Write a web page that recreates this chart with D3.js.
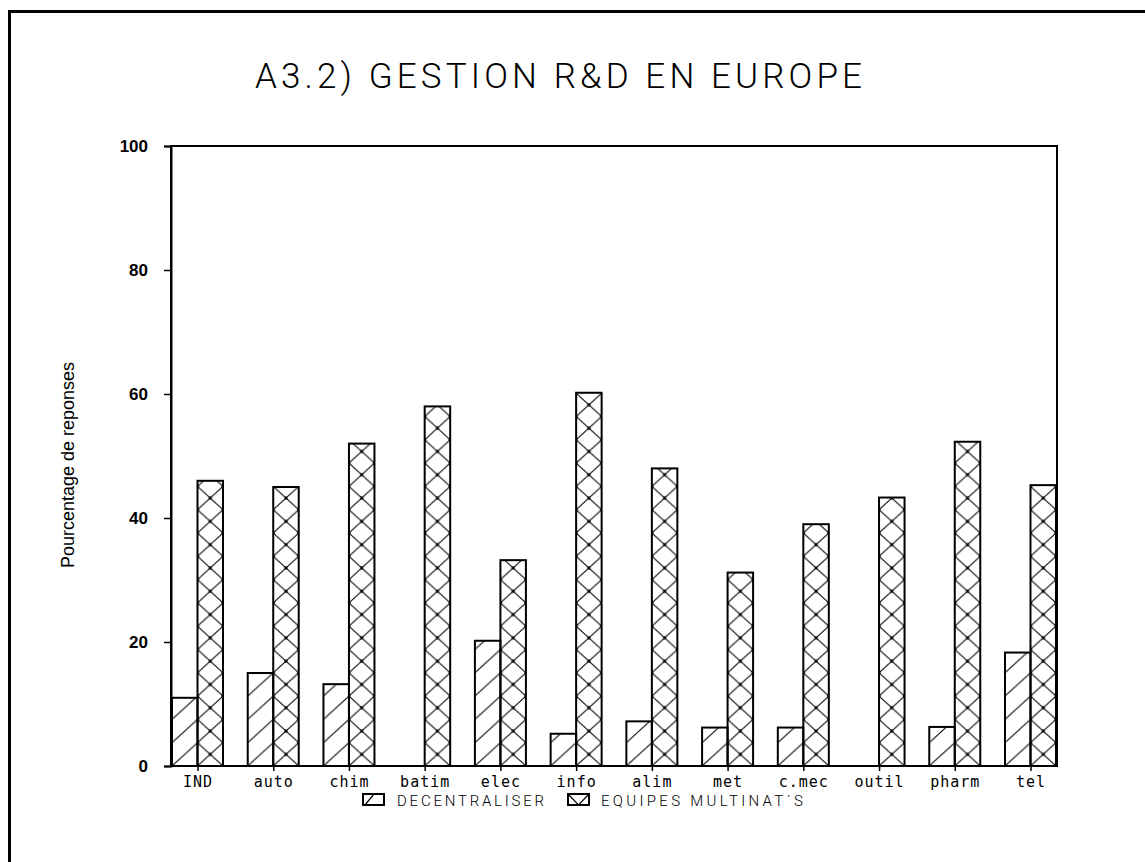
<!DOCTYPE html>
<html>
<head>
<meta charset="utf-8">
<script src="https://cdn.jsdelivr.net/npm/d3@7"></script>
<style>
  body { margin: 0; background: #fff; }
  svg { display: block; }
  .mono { font-family: "DejaVu Sans Mono", "Liberation Mono", monospace; }
  .thin { font-family: Roboto, "Open Sans", "DejaVu Sans", sans-serif; font-weight: 300; }
  .sans { font-family: "Liberation Sans", Arial, sans-serif; }
</style>
</head>
<body>
<div id="chart"></div>
<script>
// data
var categories = ["IND", "auto", "chim", "batim", "elec", "info", "alim", "met", "c.mec", "outil", "pharm", "tel"];
var decentraliser = [11, 15, 13.2, 0, 20.2, 5.2, 7.2, 6.2, 6.2, 0, 6.3, 18.3];
var equipes = [46, 45, 52, 58, 33.2, 60.2, 48, 31.2, 39, 43.3, 52.3, 45.3];
var yTicks = [0, 20, 40, 60, 80, 100];
var seriesNames = ["DECENTRALISER", "EQUIPES MULTINAT\u00B4S"];
var title = "A3.2) GESTION R&D EN EUROPE";
var yTitle = "Pourcentage de reponses";

var W = 1145, H = 862;
var plot = {left: 171, top: 146, right: 1057, bottom: 766};

var svg = d3.select("#chart").append("svg")
    .attr("width", W)
    .attr("height", H);
var defs = svg.append("defs");

// outer frame
svg.append("rect")
    .attr("x", 9.5).attr("y", 11.5)
    .attr("width", 1200).attr("height", 900)
    .attr("fill", "none").attr("stroke", "#000").attr("stroke-width", 3);

// scales
var x = d3.scalePoint()
    .domain(categories)
    .range([plot.left, plot.right])
    .padding(0.35);
var y = d3.scaleLinear()
    .domain([0, 100])
    .range([plot.bottom, plot.top]);

var bw = 25.5, tileH = 23.3;

// one pattern per bar so the hatching lines up with each bar
function hatchPattern(id, x0, y0) {
  var p = defs.append("pattern")
      .attr("id", id)
      .attr("patternUnits", "userSpaceOnUse")
      .attr("x", x0).attr("y", y0)
      .attr("width", bw).attr("height", tileH);
  p.append("line")
      .attr("x1", 0).attr("y1", tileH).attr("x2", bw).attr("y2", 0)
      .attr("stroke", "#000").attr("stroke-width", 1);
}
function crossPattern(id, x0, y0) {
  var p = defs.append("pattern")
      .attr("id", id)
      .attr("patternUnits", "userSpaceOnUse")
      .attr("x", x0).attr("y", y0)
      .attr("width", bw).attr("height", tileH);
  p.append("line")
      .attr("x1", 0).attr("y1", 0).attr("x2", bw).attr("y2", tileH)
      .attr("stroke", "#000").attr("stroke-width", 1);
  p.append("line")
      .attr("x1", bw).attr("y1", 0).attr("x2", 0).attr("y2", tileH)
      .attr("stroke", "#000").attr("stroke-width", 1);
  [[bw / 2, tileH / 2], [0, 0], [bw, 0], [0, tileH], [bw, tileH]].forEach(function(pt) {
    p.append("circle").attr("cx", pt[0]).attr("cy", pt[1]).attr("r", 1.6).attr("fill", "#000");
  });
}

categories.forEach(function(c, i) {
  hatchPattern("dec" + i, x(c) - bw, plot.bottom);
  crossPattern("eq" + i, x(c), plot.bottom);
});

// bars
var g = svg.append("g");
g.selectAll(".dec")
  .data(decentraliser)
  .enter().append("rect")
    .attr("class", "dec")
    .attr("x", function(d, i) { return x(categories[i]) - bw; })
    .attr("y", function(d) { return y(d); })
    .attr("width", bw)
    .attr("height", function(d) { return y(0) - y(d); })
    .attr("fill", function(d, i) { return "url(#dec" + i + ")"; })
    .attr("stroke", "#000").attr("stroke-width", 2);

g.selectAll(".eq")
  .data(equipes)
  .enter().append("rect")
    .attr("class", "eq")
    .attr("x", function(d, i) { return x(categories[i]); })
    .attr("y", function(d) { return y(d); })
    .attr("width", bw)
    .attr("height", function(d) { return y(0) - y(d); })
    .attr("fill", function(d, i) { return "url(#eq" + i + ")"; })
    .attr("stroke", "#000").attr("stroke-width", 2);

// plot box
svg.append("rect")
    .attr("x", plot.left).attr("y", plot.top)
    .attr("width", plot.right - plot.left).attr("height", plot.bottom - plot.top)
    .attr("fill", "none").attr("stroke", "#000").attr("stroke-width", 2);

// y axis
var yAxis = svg.append("g")
    .attr("transform", "translate(" + plot.left + ",0)")
    .call(d3.axisLeft(y).tickValues(yTicks).tickSize(7).tickPadding(16));
yAxis.select(".domain").attr("stroke-width", 2);
yAxis.selectAll(".tick line").attr("stroke-width", 1.5);
yAxis.selectAll("text")
    .attr("class", "sans")
    .style("font-size", "17px")
    .style("font-weight", "bold")
    .attr("fill", "#000");

// x axis
var xAxis = svg.append("g")
    .attr("transform", "translate(0," + plot.bottom + ")")
    .call(d3.axisBottom(x).tickSize(5).tickPadding(5).tickSizeOuter(0));
xAxis.select(".domain").remove();
xAxis.selectAll(".tick line").attr("stroke-width", 1.5);
xAxis.selectAll("text")
    .attr("class", "mono")
    .style("font-size", "15px")
    .style("letter-spacing", "1px")
    .attr("fill", "#000");

// titles
svg.append("text")
    .attr("class", "thin")
    .attr("x", 255).attr("y", 88)
    .attr("textLength", 607).attr("lengthAdjust", "spacing")
    .style("font-size", "35px")
    .text(title);

svg.append("text")
    .attr("class", "sans")
    .attr("transform", "translate(74,465) rotate(-90)")
    .attr("text-anchor", "middle")
    .style("font-size", "18px")
    .text(yTitle);

// legend
var legendX = [363, 568], legendText = [397, 601], legendLen = [147, 202];
seriesNames.forEach(function(name, i) {
  var lx = legendX[i], ly = 794, lw = 21, lh = 11;
  var lg = svg.append("g");
  lg.append("rect")
      .attr("x", lx).attr("y", ly).attr("width", lw).attr("height", lh)
      .attr("fill", "#fff").attr("stroke", "#000").attr("stroke-width", 2);
  if (i === 0) {
    lg.append("line").attr("x1", lx + 2).attr("y1", ly + lh).attr("x2", lx + 11).attr("y2", ly)
        .attr("stroke", "#000").attr("stroke-width", 1.2);
  } else {
    lg.append("path")
        .attr("d", "M" + lx + "," + ly + "L" + (lx + lw / 2) + "," + (ly + lh) + "L" + (lx + lw) + "," + ly)
        .attr("fill", "none").attr("stroke", "#000").attr("stroke-width", 1.2);
  }
  lg.append("text")
      .attr("class", "thin")
      .attr("x", legendText[i]).attr("y", ly + 12)
      .attr("textLength", legendLen[i]).attr("lengthAdjust", "spacing")
      .style("font-size", "15px")
      .text(name);
});
</script>
</body>
</html>
